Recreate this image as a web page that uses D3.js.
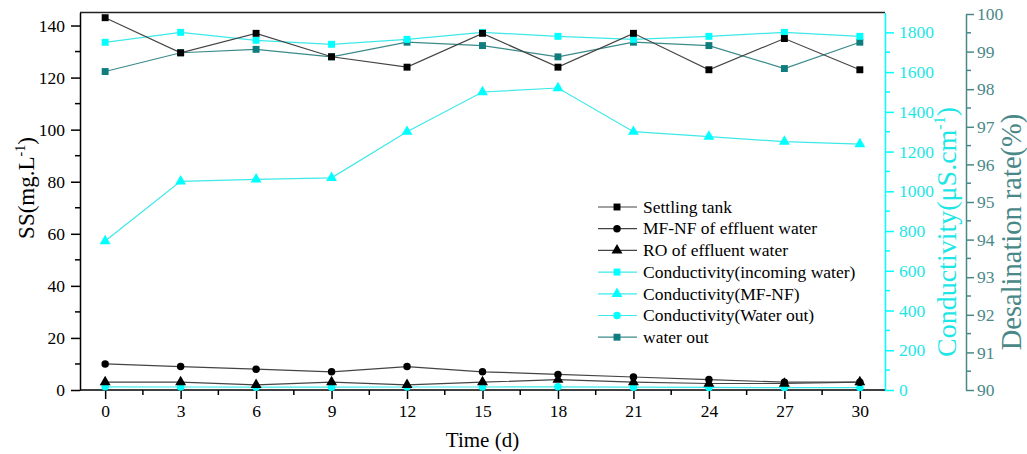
<!DOCTYPE html>
<html>
<head>
<meta charset="utf-8">
<script src="https://cdn.jsdelivr.net/npm/d3@7"></script>
<style>
  html, body { margin: 0; padding: 0; background: #fff; }
  svg { display: block; }
  svg text { font-family: "Liberation Serif", "Times New Roman", serif !important; }
</style>
</head>
<body>
<svg id="chart" width="1027" height="454"></svg>
<script>
// Sampling days
const days = [0, 3, 6, 9, 12, 15, 18, 21, 24, 27, 30];

// Suspended solids, mg/L (left axis)
const settlingTank = [143, 129.5, 137, 128, 124, 137, 124, 137, 123, 135, 123];
const mfnfEffluent = [10, 9, 8, 7, 9, 7, 6, 5, 4, 3, 3];
const roEffluent   = [3, 3, 2, 3, 2, 3, 4, 3, 2.5, 2.5, 3];

// Conductivity, μS/cm (first right axis)
const condIncoming = [1750, 1800, 1760, 1740, 1765, 1800, 1780, 1765, 1780, 1800, 1780];
const condMfnf     = [750, 1050, 1060, 1068, 1300, 1500, 1520, 1300, 1275, 1250, 1238];
const condOut      = [16, 15, 14, 14, 15, 15, 16, 14, 13, 12, 12];

// Desalination rate, % (second right axis)
const desalRate = [98.47, 98.97, 99.06, 98.86, 99.25, 99.16, 98.86, 99.25, 99.16, 98.55, 99.25];

// Axis ticks
const xTicks = [0, 3, 6, 9, 12, 15, 18, 21, 24, 27, 30];
const ssTicks = [0, 20, 40, 60, 80, 100, 120, 140];
const condTicks = [0, 200, 400, 600, 800, 1000, 1200, 1400, 1600, 1800];
const desalTicks = [90, 91, 92, 93, 94, 95, 96, 97, 98, 99, 100];

const legendLabels = [
  "Settling tank",
  "MF-NF of effluent water",
  "RO of effluent water",
  "Conductivity(incoming water)",
  "Conductivity(MF-NF)",
  "Conductivity(Water out)",
  "water out"
];

const CYAN = "#00ffff", CYAN_LINE = "#3ee8e8", CYAN_TEXT = "#1ee6e6";
const TEAL = "#0f7d7d", TEAL_LINE = "#3a8a8a", TEAL_AXIS = "#4a8888";
const BLACK = "#000", BLACK_LINE = "#444";
const SERIF = "Liberation Serif, Times New Roman, serif";

const svg = d3.select("#chart");
const L = 80, R = 885, T = 12.5, B = 390;

const x = d3.scaleLinear().domain([-1, 31]).range([L, R]);
const yS = d3.scaleLinear().domain([0, 145]).range([B, T]);
const yC = d3.scaleLinear().domain([0, 1900]).range([B, T]);
const yD = d3.scaleLinear().domain([90, 100]).range([B, 14]);

const FS = 17.5;
const fmt = d3.format("d");

function styleAxis(g, color, textColor) {
  g.attr("font-family", SERIF).attr("font-size", FS);
  g.selectAll("path.domain").attr("stroke", color).attr("stroke-width", 1.5);
  g.selectAll(".tick line").attr("stroke", color).attr("stroke-width", 1.5);
  g.selectAll(".tick text").attr("fill", textColor || color);
}

// minor ticks helper
function minor(g, vals, fn) {
  g.selectAll(null).data(vals).enter().append("line").each(fn);
}

// Top frame
svg.append("line").attr("x1", L).attr("x2", R).attr("y1", T).attr("y2", T)
  .attr("stroke", "#222").attr("stroke-width", 1.5);

// X axis
const gx = svg.append("g").attr("transform", `translate(0,${B})`)
  .call(d3.axisBottom(x).tickValues(xTicks).tickSize(9).tickSizeOuter(0).tickPadding(6).tickFormat(fmt));
styleAxis(gx, "#000");
gx.select("path.domain").attr("d", `M${L},0H${R}`);
minor(gx, d3.range(1.5, 30, 3), function (d) {
  d3.select(this).attr("x1", x(d)).attr("x2", x(d)).attr("y1", 0).attr("y2", 5)
    .attr("stroke", "#000").attr("stroke-width", 1.5);
});

// Left axis (SS)
const gy = svg.append("g").attr("transform", `translate(${L},0)`)
  .call(d3.axisLeft(yS).tickValues(ssTicks).tickSize(9).tickSizeOuter(0).tickPadding(6).tickFormat(fmt));
styleAxis(gy, "#000");
minor(gy, d3.range(10, 145, 20), function (d) {
  d3.select(this).attr("x1", 0).attr("x2", -5).attr("y1", yS(d)).attr("y2", yS(d))
    .attr("stroke", "#000").attr("stroke-width", 1.5);
});

// Conductivity axis
const gc = svg.append("g").attr("transform", `translate(${R},0)`)
  .call(d3.axisRight(yC).tickValues(condTicks).tickSize(9).tickSizeOuter(0).tickPadding(5).tickFormat(fmt));
styleAxis(gc, CYAN, CYAN_TEXT);
minor(gc, d3.range(100, 1900, 200), function (d) {
  d3.select(this).attr("x1", 0).attr("x2", 5).attr("y1", yC(d)).attr("y2", yC(d))
    .attr("stroke", CYAN).attr("stroke-width", 1.5);
});

// Desalination axis
const DX = 966;
const gd = svg.append("g").attr("transform", `translate(${DX},0)`)
  .call(d3.axisRight(yD).tickValues(desalTicks).tickSize(8).tickSizeOuter(0).tickPadding(3).tickFormat(fmt));
styleAxis(gd, TEAL_AXIS);
minor(gd, d3.range(90.5, 100, 1), function (d) {
  d3.select(this).attr("x1", 0).attr("x2", 5).attr("y1", yD(d)).attr("y2", yD(d))
    .attr("stroke", TEAL_AXIS).attr("stroke-width", 1.5);
});

// Axis titles
svg.append("text").attr("x", x(15)).attr("y", 447).attr("text-anchor", "middle")
  .attr("font-family", SERIF).attr("font-size", 21).attr("fill", "#000").text("Time (d)");

const ssTitle = svg.append("text").attr("transform", "translate(34,188) rotate(-90)")
  .attr("text-anchor", "middle").attr("font-family", SERIF).attr("font-size", 23).attr("fill", "#000");
ssTitle.append("tspan").text("SS(mg.L");
ssTitle.append("tspan").attr("dy", -9).attr("font-size", 14).text("-1");
ssTitle.append("tspan").attr("dy", 9).text(")");

const cTitle = svg.append("text").attr("transform", "translate(956,232) rotate(-90)")
  .attr("text-anchor", "middle").attr("font-family", SERIF).attr("font-size", 28).attr("fill", CYAN_TEXT);
cTitle.append("tspan").text("Conductivity(μS.cm");
cTitle.append("tspan").attr("dy", -11).attr("font-size", 16).text("-1");
cTitle.append("tspan").attr("dy", 11).text(")");

svg.append("text").attr("transform", "translate(1021,232) rotate(-90)")
  .attr("text-anchor", "middle").attr("font-family", SERIF).attr("font-size", 28.5).attr("fill", TEAL_AXIS)
  .text("Desalination rate(%)");

// Marker symbols
const sqr = d3.symbol().type(d3.symbolSquare).size(48)();
const cir = d3.symbol().type(d3.symbolCircle).size(44)();
const tri = d3.symbol().type(d3.symbolTriangle).size(52)();

const series = [
  { vals: settlingTank, y: yS, line: BLACK_LINE, fill: BLACK, sym: sqr },
  { vals: mfnfEffluent, y: yS, line: BLACK_LINE, fill: BLACK, sym: cir },
  { vals: roEffluent,   y: yS, line: BLACK_LINE, fill: BLACK, sym: tri },
  { vals: condIncoming, y: yC, line: CYAN_LINE, fill: CYAN, sym: sqr },
  { vals: condMfnf,     y: yC, line: CYAN_LINE, fill: CYAN, sym: tri },
  { vals: condOut,      y: yC, line: CYAN_LINE, fill: CYAN, sym: cir },
  { vals: desalRate,    y: yD, line: TEAL_LINE, fill: TEAL, sym: sqr }
];

const drawOrder = [6, 3, 4, 5, 0, 1, 2];
drawOrder.forEach(i => {
  const s = series[i];
  const pts = days.map((d, k) => [x(d), s.y(s.vals[k])]);
  svg.append("path").attr("d", d3.line()(pts)).attr("fill", "none")
    .attr("stroke", s.line).attr("stroke-width", 1.2);
  svg.append("g").selectAll("path").data(pts).enter().append("path")
    .attr("d", s.sym).attr("transform", p => `translate(${p[0]},${p[1]})`)
    .attr("fill", s.fill);
});

// Legend
const lg = svg.append("g");
series.forEach((s, i) => {
  const cy = 207 + i * 21.7;
  lg.append("line").attr("x1", 598).attr("x2", 637).attr("y1", cy).attr("y2", cy)
    .attr("stroke", s.line).attr("stroke-width", 1.2);
  lg.append("path").attr("d", s.sym).attr("transform", `translate(617,${cy})`).attr("fill", s.fill);
  lg.append("text").attr("x", 643).attr("y", cy).attr("dy", "0.33em")
    .attr("font-family", SERIF).attr("font-size", FS).attr("fill", "#000").text(legendLabels[i]);
});
</script>
</body>
</html>
